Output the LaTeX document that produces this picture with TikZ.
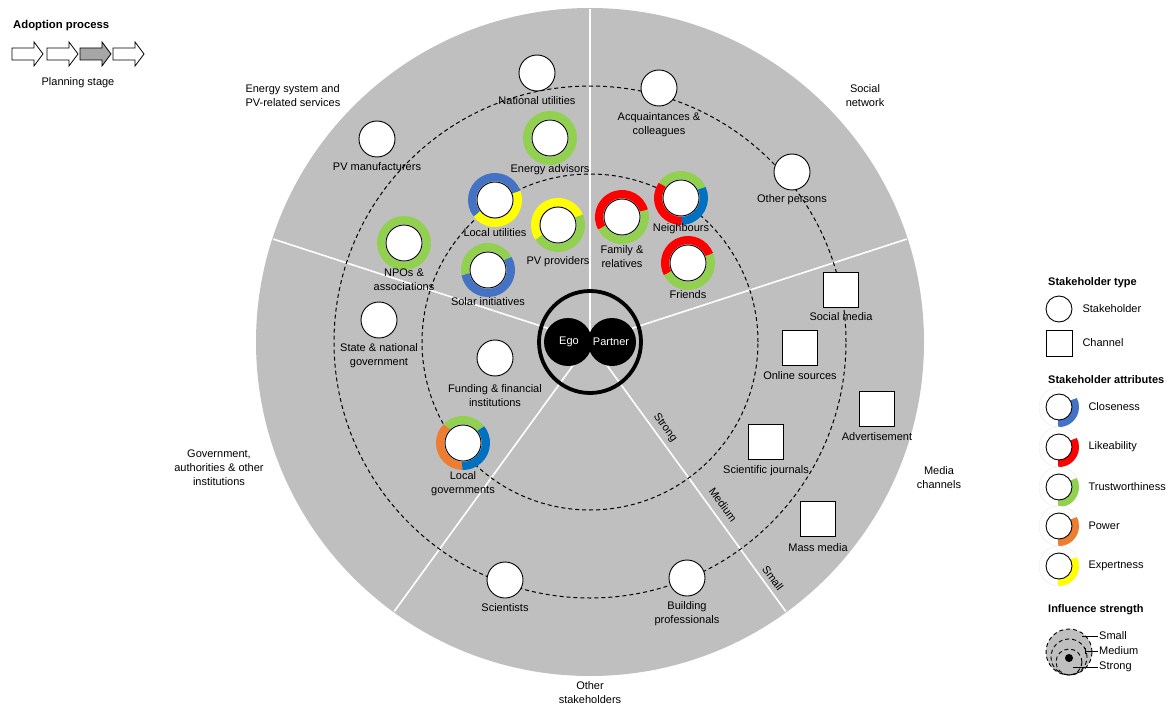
\documentclass[tikz,border=0pt]{standalone}
\usepackage{fontspec}
\setmainfont{Liberation Sans}
\usepackage{tikz}
\usetikzlibrary{positioning}

\definecolor{bgray}{HTML}{BFBFBF}
\definecolor{arrgray}{HTML}{A6A6A6}
\definecolor{closeA}{HTML}{4472C4}
\definecolor{closeB}{HTML}{0070C0}
\definecolor{likeab}{HTML}{FF0000}
\definecolor{trust}{HTML}{92D050}
\definecolor{power}{HTML}{ED7D31}
\definecolor{expert}{HTML}{FFFF00}

% one coloured piece of the ring round a stakeholder
\newcommand{\seg}[4]{\draw[line width=8.1pt, #4] (#1.center) ++(#2:22.95pt) arc[start angle=#2, end angle=#3, radius=22.95pt];}

\begin{document}
\begin{tikzpicture}[x=1pt, y=1pt,
    font=\fontsize{11}{14}\selectfont,
    stake/.style={circle, draw, fill=white, line width=0.9pt, minimum size=36pt, inner sep=0pt},
    chan/.style={rectangle, draw, fill=white, line width=0.9pt, minimum size=35pt, inner sep=0pt},
    lbl/.style={align=center, inner sep=1pt},
    head/.style={font=\fontsize{11}{14}\selectfont\bfseries, anchor=west, inner sep=0pt},
    sepline/.style={white, line width=1.6pt},
    band/.style={dash pattern=on 4pt off 3pt, line width=1pt},
    egodisk/.style={circle, fill=black, text=white, minimum size=48pt, inner sep=0pt}]

    \useasboundingbox (0,0) rectangle (1168,-706);

    % adoption process
    \node[head, font=\fontsize{11.3}{14}\selectfont\bfseries] (adopt) at (13,-26) {Adoption process};
    \foreach \x/\c in {12/white,47/white,80/arrgray,113/white}
        \draw[line width=0.8pt, fill=\c] (\x,-48) -- ++(22,0) -- ++(0,6) -- ++(9,-12) -- ++(-9,-12) -- ++(0,6) -- ++(-22,0) -- cycle;
    \node (stage) at (78,-83) {Planning stage};

    % the disk
    \coordinate (ctr) at (590,-342);
    \fill[bgray] (ctr) circle[radius=334pt];
    \foreach \a in {90,18,-54,-126,162}
        \draw[sepline] (ctr) -- ++(\a:333pt);
    \draw[band] (ctr) circle[radius=168pt];
    \draw[band] (ctr) circle[radius=256pt];
    \draw[line width=3.8pt] (ctr) circle[radius=51pt];
    \node[egodisk] (ego) at (568,-342) {};
    \node[egodisk] (partner) at (612,-342) {};
    \node[text=white] (egot) at (569,-342) {Ego};
    \node[text=white] (partnert) at (611,-342) {Partner};

    \node[rotate=-54] (lstrong) at (665,-428) {Strong};
    \node[rotate=-54] (lmedium) at (723,-505) {Medium};
    \node[rotate=-54] (lsmall) at (773,-578) {Small};

    % sectors
    \node[anchor=west, align=left] (secenergy) at (242,-95.5) {Energy system and\\PV-related services};
    \node[align=center] (secsocial) at (865,-96) {Social\\network};
    \node[align=center] (secgov) at (219,-468) {Government,\\authorities \& other\\institutions};
    \node[align=center] (secmedia) at (939,-478) {Media\\channels};
    \node[align=center] (secother) at (590,-693) {Other\\stakeholders};

    % stakeholders
    \node[stake] (natutil) at (537,-73) {};
    \node[stake] (pvman) at (377,-139) {};
    \node[stake] (acq) at (659,-88) {};
    \node[stake] (other) at (792,-172) {};
    \node[stake] (state) at (379,-320) {};
    \node[stake] (fund) at (495,-358) {};
    \node[stake] (sci) at (505,-580) {};
    \node[stake] (build) at (687,-578) {};
    \node[stake] (enadv) at (550,-138) {};
    \node[stake] (locutil) at (495,-200) {};
    \node[stake] (pvprov) at (558,-225) {};
    \node[stake] (family) at (622,-217) {};
    \node[stake] (neigh) at (681,-198) {};
    \node[stake] (friends) at (688,-263) {};
    \node[stake] (npo) at (404,-243) {};
    \node[stake] (solar) at (488,-270) {};
    \node[stake] (locgov) at (463,-443) {};

    \seg{enadv}{0}{360}{trust}
    \seg{npo}{0}{360}{trust}
    \seg{locutil}{20}{218}{closeA}
    \seg{locutil}{218}{380}{expert}
    \seg{pvprov}{23}{213}{expert}
    \seg{pvprov}{213}{383}{trust}
    \seg{family}{16}{208}{likeab}
    \seg{family}{208}{376}{trust}
    \seg{neigh}{25}{145}{trust}
    \seg{neigh}{145}{272}{likeab}
    \seg{neigh}{272}{385}{closeB}
    \seg{friends}{21}{207}{likeab}
    \seg{friends}{207}{381}{trust}
    \seg{solar}{30}{191}{trust}
    \seg{solar}{191}{390}{closeA}
    \seg{locgov}{39}{135}{trust}
    \seg{locgov}{135}{268}{power}
    \seg{locgov}{268}{399}{closeB}

    % channels
    \node[chan] (socmed) at (841,-290) {};
    \node[chan] (online) at (800,-348) {};
    \node[chan] (advert) at (877,-409) {};
    \node[chan] (scijour) at (766,-442) {};
    \node[chan] (mass) at (818,-519) {};

    % labels
    \node[lbl, below=4pt of natutil] (tnatutil) {National utilities};
    \node[lbl, below=4pt of pvman] (tpvman) {PV manufacturers};
    \node[lbl, below=5pt of acq] (tacq) {Acquaintances \&\\colleagues};
    \node[lbl, below=3pt of other] (tother) {Other persons};
    \node[lbl, below=4pt of state] (tstate) {State \& national\\government};
    \node[lbl, below=7pt of fund] (tfund) {Funding \& financial\\institutions};
    \node[lbl, below=4pt of sci] (tsci) {Scientists};
    \node[lbl, below=4pt of build] (tbuild) {Building\\professionals};
    \node[lbl, below=7pt of enadv] (tenadv) {Energy advisors};
    \node[lbl, below=9pt of locutil] (tlocutil) {Local utilities};
    \node[lbl, below=12pt of pvprov] (tpvprov) {PV providers};
    \node[lbl, below=9pt of family] (tfamily) {Family \&\\relatives};
    \node[lbl, below=6pt of neigh] (tneigh) {Neighbours};
    \node[lbl, below=8pt of friends] (tfriends) {Friends};
    \node[lbl, below=6pt of npo] (tnpo) {NPOs \&\\associations};
    \node[lbl, below=8pt of solar] (tsolar) {Solar initiatives};
    \node[lbl, below=9pt of locgov] (tlocgov) {Local\\governments};
    \node[lbl, below=3pt of socmed] (tsocmed) {Social media};
    \node[lbl, below=4pt of online] (tonline) {Online sources};
    \node[lbl, below=4pt of advert] (tadvert) {Advertisement};
    \node[lbl, below=4pt of scijour] (tscijour) {Scientific journals};
    \node[lbl, below=5pt of mass] (tmass) {Mass media};

    % legend
    \node[head] (ltype) at (1048,-283) {Stakeholder type};
    \node[stake, minimum size=26pt] (lstake) at (1059,-309) {};
    \node[anchor=west] (lstaket) at (1079,-309) {Stakeholder};
    \node[chan, minimum size=26pt] (lchan) at (1059,-343) {};
    \node[anchor=west] (lchant) at (1079,-343) {Channel};

    \node[head] (lattr) at (1048,-380) {Stakeholder attributes};
    \foreach \y/\c/\t/\n in {407/closeA/Closeness/close, 447/likeab/Likeability/like, 487/trust/Trustworthiness/trust, 526/power/Power/power, 566/expert/Expertness/expert} {
        \fill[white, draw=black!8] (1059,-\y) circle[radius=20pt];
        \draw[\c, line width=7pt] (1059,-\y) ++(-93:16.5pt) arc[start angle=-93, end angle=28, radius=16.5pt];
        \node[stake, minimum size=26pt] (latt\n) at (1059,-\y) {};
        \node[anchor=west] (lattt\n) at (1085,-\y) {\t};
    }

    \node[head] (linfl) at (1048,-610) {Influence strength};
    \filldraw[fill=bgray, band, line width=0.9pt] (1069,-652) circle[radius=23pt];
    \draw[band, line width=0.9pt] (1069,-657) circle[radius=18pt];
    \draw[band, line width=0.9pt] (1069,-662) circle[radius=13pt];
    \fill (1069,-658) circle[radius=4pt];
    \node[anchor=west, inner sep=1pt] (linsmall) at (1098,-636) {Small};
    \node[anchor=west, inner sep=1pt] (linmedium) at (1098,-651) {Medium};
    \node[anchor=west, inner sep=1pt] (linstrong) at (1098,-667) {Strong};
    \coordinate (psmall) at (1082,-636);
    \coordinate (pmedium) at (1085,-651);
    \coordinate (pstrong) at (1073,-667);
    \draw[line width=0.6pt] (psmall) -- (linsmall.west);
    \draw[line width=0.6pt] (pmedium) -- (linmedium.west);
    \draw[line width=0.6pt] (pmedium) ++(0,3) -- ++(0,-6);
    \draw[line width=0.6pt] (pstrong) -- (linstrong.west);
\end{tikzpicture}
\end{document}
